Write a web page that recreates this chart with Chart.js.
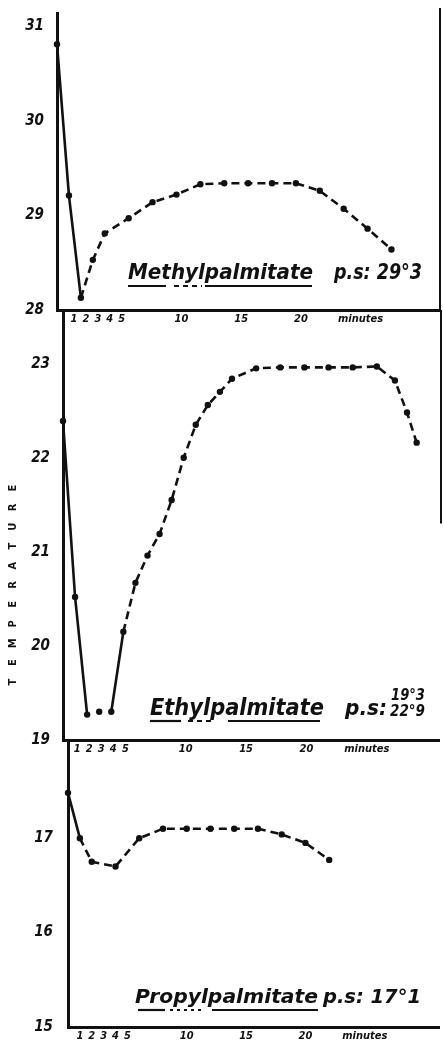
<!DOCTYPE html>
<html><head><meta charset="utf-8">
<script src="https://cdn.jsdelivr.net/npm/chart.js@4.4.1/dist/chart.umd.min.js"></script>
<style>
html,body{margin:0;padding:0;background:#fff;}
#wrap{position:relative;width:443px;height:1044px;overflow:hidden;background:#fff;}
.p{position:absolute;left:0;}
canvas{display:block;}
</style></head><body>
<div id="wrap">
<div class="p" style="top:0px;width:443px;height:330px"><canvas id="c1" width="443" height="330"></canvas></div>
<div class="p" style="top:300px;width:443px;height:460px"><canvas id="c2" width="443" height="460"></canvas></div>
<div class="p" style="top:730px;width:443px;height:314px"><canvas id="c3" width="443" height="314"></canvas></div>
</div>
<script>
// ---- data ----
const methylMinutes = [0, 1, 2, 3, 4, 6, 8, 10, 12, 14, 16, 18, 20, 22, 24, 26, 28];
const methylTemp    = [30.81, 29.21, 28.13, 28.53, 28.81, 28.97, 29.14, 29.22, 29.33, 29.34, 29.34, 29.34, 29.34, 29.26, 29.07, 28.86, 28.64];
const ethylMinutes  = [0, 1, 2, 3, 4, 5, 6, 7, 8, 9, 10, 11, 12, 13, 14, 16, 18, 20, 22, 24, 26, 27.5, 28.5, 29.3];
const ethylTemp     = [22.39, 20.52, 19.27, 19.3, 19.3, 20.15, 20.67, 20.96, 21.19, 21.55, 22.0, 22.35, 22.56, 22.70, 22.84, 22.95, 22.96, 22.96, 22.96, 22.96, 22.97, 22.82, 22.48, 22.16];
const propylMinutes = [0, 1, 2, 4, 6, 8, 10, 12, 14, 16, 18, 20, 22];
const propylTemp    = [17.48, 17.0, 16.75, 16.7, 17.0, 17.1, 17.1, 17.1, 17.1, 17.1, 17.04, 16.95, 16.77];
const minuteTicks      = [1, 2, 3, 4, 5, 10, 15, 20, 25];
const minuteTickLabels = ['1', '2', '3', '4', '5', '10', '15', '20', 'minutes'];
const methylTempTicks = [28, 29, 30, 31];
const ethylTempTicks  = [19, 20, 21, 22, 23];
const propylTempTicks = [15, 16, 17];
const axisTitle   = 'TEMPERATURE';
const methylName  = 'Methylpalmitate';
const methylPs    = 'p.s: 29°3';
const ethylName   = 'Ethylpalmitate';
const ethylPs     = 'p.s:';
const ethylPsVals = ['19°3', '22°9'];
const propylName  = 'Propylpalmitate';
const propylPs    = 'p.s: 17°1';

// ---- helpers ----
const INK = '#111';
const HAND = '"DejaVu Sans Condensed","DejaVu Sans",sans-serif';

function fitText(ctx, text, x, baseline, w, size) {
  ctx.save();
  ctx.font = 'italic bold ' + size + 'px ' + HAND;
  const m = ctx.measureText(text).width;
  ctx.translate(x, baseline);
  ctx.scale(w / m, 1);
  ctx.fillStyle = INK;
  ctx.textAlign = 'left';
  ctx.textBaseline = 'alphabetic';
  ctx.fillText(text, 0, 0);
  ctx.restore();
}
function underline(ctx, y, segs) {
  ctx.save();
  ctx.strokeStyle = INK;
  ctx.lineWidth = 2.2;
  segs.forEach(s => {
    ctx.setLineDash(s[2] || []);
    ctx.beginPath(); ctx.moveTo(s[0], y); ctx.lineTo(s[1], y); ctx.stroke();
  });
  ctx.restore();
}

function makePanel(id, xs, ys, cfg) {
  const pts = xs.map((x, i) => ({x: x, y: ys[i]}));
  return new Chart(document.getElementById(id), {
    type: 'line',
    data: { datasets: [{
      data: pts,
      borderColor: INK, borderWidth: 2.6, borderDash: [8, 5],
      pointRadius: 3.2, pointBackgroundColor: INK, pointBorderWidth: 0,
      tension: 0, clip: false,
      segment: {
        borderDash: c => cfg.solid.includes(c.p0DataIndex) ? [] : [8, 5],
        borderColor: c => (cfg.hidden || []).includes(c.p0DataIndex) ? 'rgba(0,0,0,0)' : INK
      }
    }]},
    options: {
      responsive: false, animation: false,
      layout: { padding: { top: cfg.top, right: 0, left: 0, bottom: 0 } },
      plugins: { legend: { display: false }, tooltip: { enabled: false } },
      scales: {
        x: {
          type: 'linear', min: 0, max: cfg.xMax,
          grid: { display: false, drawTicks: false },
          border: { display: true, color: INK, width: 3 },
          afterBuildTicks: s => { s.ticks = minuteTicks.map(v => ({ value: v })); },
          afterFit: s => { s.height = cfg.xH; s.paddingLeft = 0; s.paddingRight = 0; },
          ticks: {
            autoSkip: false, maxRotation: 0, padding: 3, labelOffset: cfg.lo, color: INK,
            font: { family: HAND, size: 11, style: 'italic', weight: 'bold' },
            callback: (v, i) => minuteTickLabels[i]
          }
        },
        y: {
          type: 'linear', min: cfg.yMin, max: cfg.yMax,
          grid: { display: false, drawTicks: false },
          border: { display: true, color: INK, width: 3 },
          afterBuildTicks: s => { s.ticks = cfg.yTicks.map(v => ({ value: v })); },
          afterFit: s => { s.width = cfg.yW; s.paddingTop = 0; s.paddingBottom = 0; },
          ticks: {
            padding: cfg.yPad, color: INK,
            font: { family: HAND, size: 15, style: 'italic', weight: 'bold' }
          }
        }
      }
    },
    plugins: [{ id: 'decor' + id, afterDraw: ch => cfg.decor(ch, ch.ctx) }]
  });
}

// ---- panel 1: methyl ----
makePanel('c1', methylMinutes, methylTemp, {
  top: 13, xH: 20, xMax: 31.98, yMin: 28, yMax: 31.14, yW: 57, yPad: 13, lo: 5,
  yTicks: methylTempTicks, solid: [0, 1],
  decor: (ch, ctx) => {
    const a = ch.chartArea;
    ctx.save(); ctx.strokeStyle = INK; ctx.lineWidth = 2;
    ctx.beginPath(); ctx.moveTo(440, 8); ctx.lineTo(440, a.bottom); ctx.stroke(); ctx.restore();
    fitText(ctx, methylName, 128, 279, 185, 21);
    fitText(ctx, methylPs, 334, 279, 88, 21);
    underline(ctx, 286, [[128, 166], [174, 202, [5, 4]], [205, 312]]);
  }
});

// ---- panel 2: ethyl ----
makePanel('c2', ethylMinutes, ethylTemp, {
  top: 10, xH: 20, xMax: 31.15, yMin: 19, yMax: 23.57, yW: 63, yPad: 13, lo: 2,
  yTicks: ethylTempTicks, solid: [0, 1, 4], hidden: [2, 3],
  decor: (ch, ctx) => {
    const a = ch.chartArea;
    const ys = ch.scales.y;
    ctx.save(); ctx.strokeStyle = INK; ctx.lineWidth = 2;
    ctx.beginPath(); ctx.moveTo(441, a.top); ctx.lineTo(441, ys.getPixelForValue(21.3)); ctx.stroke(); ctx.restore();
    fitText(ctx, ethylName, 150, 415, 174, 23);
    fitText(ctx, ethylPs, 345, 415, 42, 21);
    fitText(ctx, ethylPsVals[0], 391, 400, 34, 15);
    fitText(ctx, ethylPsVals[1], 390, 416, 35, 15);
    underline(ctx, 421, [[150, 181], [188, 214, [5, 4]], [228, 320]]);
    // vertical axis title
    ctx.save();
    ctx.translate(13, 285);
    ctx.rotate(-Math.PI / 2);
    ctx.font = 'bold 11px ' + HAND;
    ctx.fillStyle = INK; ctx.textAlign = 'center'; ctx.textBaseline = 'middle';
    const n = axisTitle.length;
    for (let i = 0; i < n; i++) ctx.fillText(axisTitle[i], (i - (n - 1) / 2) * 19.4, 0);
    ctx.restore();
  }
});

// ---- panel 3: propyl ----
makePanel('c3', propylMinutes, propylTemp, {
  top: 10, xH: 17, xMax: 31.25, yMin: 15, yMax: 18.04, yW: 68, yPad: 15, lo: 0,
  yTicks: propylTempTicks, solid: [0],
  decor: (ch, ctx) => {
    fitText(ctx, propylName, 135, 273, 183, 20);
    fitText(ctx, propylPs, 323, 273, 98, 20);
    underline(ctx, 280, [[138, 165], [170, 205, [3, 4]], [212, 318]]);
  }
});
</script>
</body></html>
